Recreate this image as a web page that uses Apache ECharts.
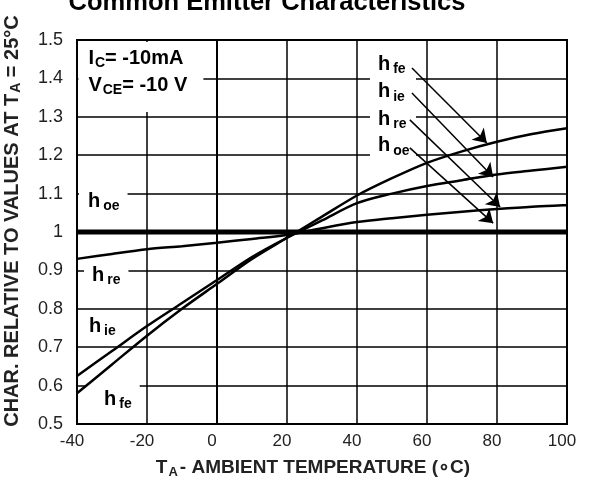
<!DOCTYPE html>
<html><head><meta charset="utf-8">
<script src="https://cdn.jsdelivr.net/npm/echarts@6/dist/echarts.min.js"></script>
<style>html,body{margin:0;padding:0;background:#fff}#c{width:595px;height:484px}</style>
</head><body><div id="c"></div>
<script>
// ---- data ----
const temps = [-40,-30,-20,-10,0,10,20,30,40,50,60,70,80,90,100];
const hfe = [0.58,0.655,0.73,0.80,0.865,0.93,0.985,1.04,1.095,1.14,1.18,1.21,1.235,1.255,1.27];
const hie = [0.625,0.69,0.755,0.815,0.875,0.935,0.985,1.03,1.075,1.10,1.12,1.135,1.15,1.16,1.17];
const hre = [0.93,0.943,0.955,0.963,0.972,0.982,0.992,1.01,1.026,1.036,1.045,1.053,1.06,1.066,1.07];
const hoe = [1,1,1,1,1,1,1,1,1,1,1,1,1,1,1];
const xTicks = ['-40','-20','0','20','40','60','80','100'];
const yTicks = ['0.5','0.6','0.7','0.8','0.9','1','1.1','1.2','1.3','1.4','1.5'];
// arrows from right-hand labels to curves: [from, to]
const arrows = [
  [[55.7,1.427],[77.1,1.232]],
  [[55.7,1.362],[78.9,1.143]],
  [[55.1,1.292],[80.9,1.065]],
  [[55.1,1.219],[78.9,1.023]]
];

const F = '"Liberation Sans", Arial, sans-serif';
const zip = (a,b)=>a.map((v,i)=>[v,b[i]]);
const hs = {h:{fontSize:20,fontWeight:'bold',color:'#000',fontFamily:F},
            s:{fontSize:14,fontWeight:'bold',color:'#000',fontFamily:F,padding:[10,0,0,3]}};

// annotation labels: [x, y, text, padding, width]
const notes = [
  [-39.6, 1.4036, '{h|I}{c|C}{t|= -10mA}\n{h|V}{c|CE}{t|= -10 V}', [3,0,13,10], 115],
  [-39.43, 1.0807, '{h|h}{s|oe}', [5,8,5,9], null],
  [-38.0, 0.888, '{h|h}{s|re}', [4,8,4,8], null],
  [-36.6, 0.755, '{h|h}{s|ie}', [0,0,0,0], null],
  [-37.7, 0.5677, '{h|h}{s|fe}', [9,8,6,19], null],
  [43.71, 1.4375, '{h|h}{s|fe}', [5,6,5,8], 32],
  [43.71, 1.365, '{h|h}{s|ie}', [5,6,5,8], 32],
  [43.71, 1.294, '{h|h}{s|re}', [5,6,5,8], 32],
  [43.71, 1.224, '{h|h}{s|oe}', [5,6,5,8], 32]
];

const curve = (name, d, w) => ({
  type:'line', name, data: zip(temps, d), showSymbol:false, symbol:'none', smooth:0.3,
  lineStyle:{color:'#000', width:w}, z:5, silent:true, animation:false
});

const chart = echarts.init(document.getElementById('c'), null, {renderer:'canvas'});
chart.setOption({
  animation:false,
  backgroundColor:'#fff',
  grid:{left:77,right:28,top:40,bottom:60,show:true,borderColor:'#000',borderWidth:2,backgroundColor:'#fff'},
  xAxis:{type:'value',min:-40,max:100,interval:20,
    axisLine:{show:true,lineStyle:{color:'#000',width:2}},
    axisTick:{show:false},
    splitLine:{show:true,lineStyle:{color:'#000',width:1.5}},
    axisLabel:{fontSize:17,color:'#222',fontFamily:F,margin:9,padding:[0,10,0,0],
      formatter:(v)=>xTicks[Math.round((v+40)/20)]}},
  yAxis:{type:'value',min:0.5,max:1.5,interval:0.1,
    axisLine:{show:true,lineStyle:{color:'#000',width:2}},
    axisTick:{show:false},
    splitLine:{show:true,lineStyle:{color:'#000',width:1.5}},
    axisLabel:{fontSize:18,color:'#222',fontFamily:F,margin:14,padding:[4,0,0,0],
      formatter:(v)=>yTicks[Math.round((v-0.5)*10)]}},
  series:[
    {type:'scatter', symbolSize:0, z:3, silent:true, itemStyle:{opacity:1},
      data: notes.map(n=>({value:[n[0],n[1]],
        label:{show:true,position:'right',distance:0,formatter:n[2],opacity:1,
          backgroundColor:'#fff',padding:n[3],width:n[4]||undefined,align:'left',
          rich:Object.assign({},hs,{
            c:{fontSize:14,fontWeight:'bold',color:'#000',fontFamily:F,padding:[10,0,0,1],lineHeight:27},
            t:{fontSize:20,fontWeight:'bold',color:'#000',fontFamily:F,lineHeight:27}})}}))},
    curve('hoe', hoe, 5),
    curve('hre', hre, 2.5),
    curve('hie', hie, 2.5),
    curve('hfe', hfe, 2.5),
    {type:'lines', coordinateSystem:'cartesian2d', z:6, silent:true,
      symbol:['none','arrow'], symbolSize:[7,13],
      lineStyle:{color:'#000',width:1.5,opacity:1},
      data: arrows.map(a=>({coords:a}))}
  ],
  graphic:[
    {type:'text', x:267, y:3, style:{text:'Common Emitter Characteristics', font:'bold 25.5px '+F,
      fill:'#000', align:'center', verticalAlign:'middle'}},
    {type:'text', x:12, y:221, rotation:Math.PI/2, style:{
      text:'{a|CHAR. RELATIVE TO VALUES AT T}{b|A}{a| = 25°C}',
      align:'center', verticalAlign:'middle',
      rich:{a:{font:'bold 20px '+F, fill:'#222', color:'#222'},
            b:{font:'bold 14px '+F, fill:'#222', color:'#222', padding:[9,0,0,1]}}}},
    {type:'text', x:313, y:468, style:{
      text:'{a|T}{b|A}{a|- AMBIENT TEMPERATURE (∘C)}',
      align:'center', verticalAlign:'middle',
      rich:{a:{font:'bold 19px '+F, fill:'#222', color:'#222'},
            b:{font:'bold 13px '+F, fill:'#222', color:'#222', padding:[9,2,0,1]}}}}
  ]
});
</script></body></html>
